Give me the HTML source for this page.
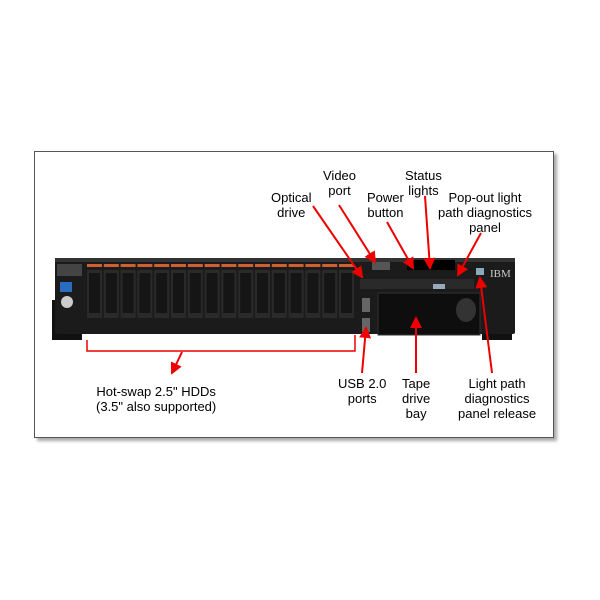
<!DOCTYPE html>
<html><head><style>
body{margin:0;width:600px;height:600px;background:#fff;position:relative;overflow:hidden;font-family:"Liberation Sans",Arial,sans-serif}
.box{position:absolute;left:34px;top:151px;width:518px;height:285px;border:1px solid #555;box-shadow:3px 3px 3px #aaa;background:#fff}
.t{position:absolute;font-size:13px;line-height:15px;color:#000;text-align:center;white-space:nowrap}
</style></head><body>
<div class="box"></div>
<svg width="600" height="600" style="position:absolute;left:0;top:0">
<defs><marker id="a" markerWidth="6" markerHeight="6" refX="5" refY="3" orient="auto"><path d="M0,0L6,3L0,6z" fill="#e00"/></marker></defs>
<!-- chassis -->
<rect x="52" y="300" width="30" height="40" fill="#111"/>
<rect x="482" y="300" width="30" height="40" fill="#111"/>
<rect x="55" y="258" width="460" height="76" fill="#1b1b1b" rx="2"/>
<rect x="55" y="258" width="460" height="4" fill="#333"/>
<rect x="57" y="264" width="25" height="12" fill="#444"/>
<rect x="60" y="282" width="12" height="10" fill="#2a6cc0"/>
<ellipse cx="67" cy="302" rx="6" ry="6" fill="#ccc"/>
<g id="bays">
</g>
<rect x="360" y="279" width="114" height="10" fill="#2a2a2a"/>
<rect x="433" y="284" width="12" height="5" fill="#9ab"/>
<rect x="372" y="262" width="18" height="8" fill="#555"/>
<rect x="407" y="260" width="48" height="10" fill="#000"/>
<rect x="476" y="268" width="8" height="7" fill="#8ab"/>
<rect x="378" y="293" width="102" height="42" fill="#0e0e0e" stroke="#333"/>
<ellipse cx="466" cy="310" rx="10" ry="12" fill="#333"/>
<rect x="362" y="298" width="8" height="14" fill="#666"/>
<rect x="362" y="318" width="8" height="14" fill="#666"/>
<text x="490" y="277" fill="#ccc" font-size="11" font-family="Liberation Serif">IBM</text>
<!-- bracket -->
<path d="M87,340V351H355V335" fill="none" stroke="#e00" stroke-width="1.5"/>
<g stroke="#e00" stroke-width="2" marker-end="url(#a)">
<line x1="182" y1="352" x2="172" y2="373" marker-end=""/>
<line x1="313" y1="206" x2="362" y2="277"/>
<line x1="339" y1="205" x2="375" y2="262"/>
<line x1="387" y1="222" x2="413" y2="268"/>
<line x1="425" y1="196" x2="430" y2="268"/>
<line x1="481" y1="233" x2="458" y2="275"/>
<line x1="362" y1="373" x2="366" y2="328"/>
<line x1="416" y1="373" x2="416" y2="318"/>
<line x1="492" y1="373" x2="480" y2="278"/>
</g>
</svg>
<script>
var g=document.getElementById('bays'),s='';
for(var i=0;i<16;i++){var x=87+i*16.8;s+='<rect x="'+x+'" y="264" width="15" height="3" fill="#d06030"/><rect x="'+x+'" y="270" width="15" height="48" fill="#2a2a2a"/><rect x="'+(x+2)+'" y="273" width="11" height="40" fill="#151515"/>';}
g.innerHTML=s;
</script>
<div class="t" style="left:271px;top:190px">Optical<br>drive</div>
<div class="t" style="left:323px;top:168px">Video<br>port</div>
<div class="t" style="left:367px;top:190px">Power<br>button</div>
<div class="t" style="left:405px;top:168px">Status<br>lights</div>
<div class="t" style="left:438px;top:190px">Pop-out light<br>path diagnostics<br>panel</div>
<div class="t" style="left:96px;top:384px">Hot-swap 2.5" HDDs<br>(3.5" also supported)</div>
<div class="t" style="left:338px;top:376px">USB 2.0<br>ports</div>
<div class="t" style="left:402px;top:376px">Tape<br>drive<br>bay</div>
<div class="t" style="left:458px;top:376px">Light path<br>diagnostics<br>panel release</div>
</body></html>
